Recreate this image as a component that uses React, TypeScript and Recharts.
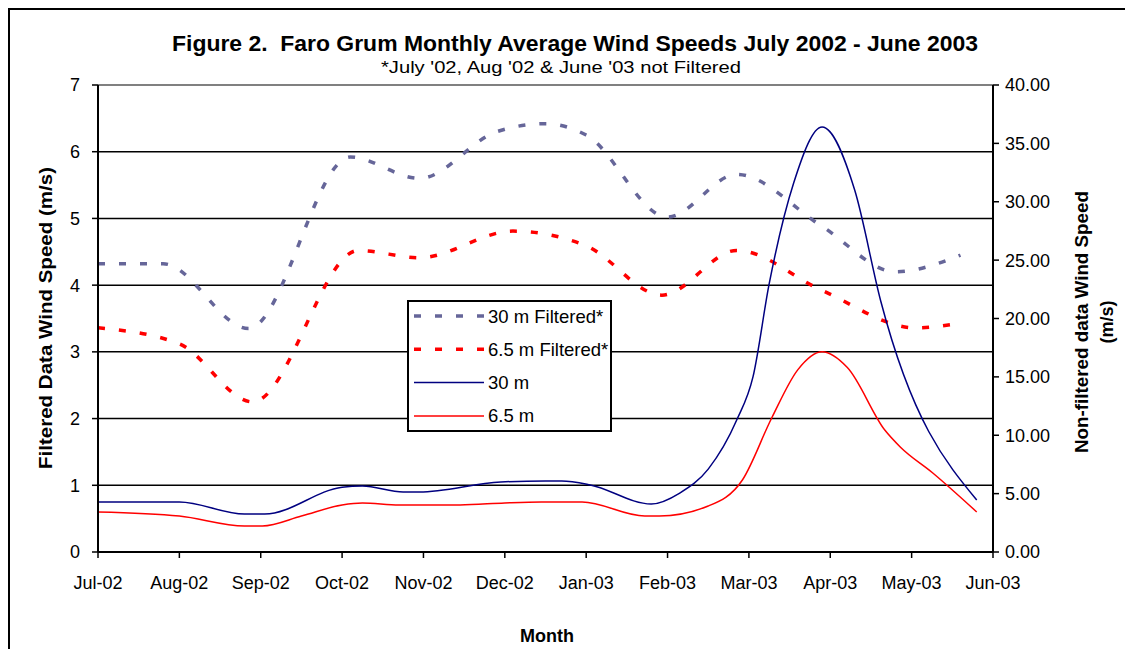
import React from 'react';
import { LineChart, Line, XAxis, YAxis, CartesianGrid, ReferenceLine, Legend } from 'recharts';

const FONT = '"Liberation Sans", Arial, sans-serif';

const monthLabels = ['Jul-02', 'Aug-02', 'Sep-02', 'Oct-02', 'Nov-02', 'Dec-02', 'Jan-03', 'Feb-03', 'Mar-03', 'Apr-03', 'May-03', 'Jun-03'];
const monthTicks = [0, 1, 2, 3, 4, 5, 6, 7, 8, 9, 10, 11];
const leftTicks = [0, 1, 2, 3, 4, 5, 6, 7];
const rightTicks = [0, 5, 10, 15, 20, 25, 30, 35, 40];

// 30 m Filtered* (left axis, m/s); x = months after Jul-02
const filt30T = [0, 0.8, 1.85, 3.1, 3.95, 4.9, 5.5, 6.0, 7.0, 7.85, 8.9, 9.8, 10.6];
const filt30V = [4.32, 4.32, 3.35, 5.92, 5.6, 6.3, 6.42, 6.25, 5.02, 5.66, 4.88, 4.2, 4.45];

// 6.5 m Filtered* (left axis)
const filt65T = [0, 1.0, 1.9, 3.2, 3.95, 5.1, 6.0, 6.93, 7.85, 8.9, 10.05, 10.6];
const filt65V = [3.36, 3.12, 2.25, 4.52, 4.41, 4.81, 4.59, 3.85, 4.52, 3.92, 3.36, 3.43];

// 30 m non-filtered (right axis)
const raw30T = [0, 1, 1.8, 2.05, 3.0, 3.25, 3.75, 3.95, 4.95, 5.5, 5.7, 6.05, 6.8, 7.15, 7.5, 7.85, 8.05, 8.25, 8.55, 8.9, 9.3, 9.62, 10.8];
const raw30V = [4.28, 4.28, 3.25, 3.25, 5.55, 5.65, 5.14, 5.14, 6.0, 6.08, 6.08, 5.74, 4.11, 5.05, 7.1, 11.3, 15.0, 23.0, 31.6, 36.4, 31.0, 21.5, 4.45];

// 6.5 m non-filtered (right axis)
const raw65T = [0, 1, 1.8, 2.02, 2.5, 3.0, 3.25, 3.7, 4.45, 5.0, 5.45, 5.95, 6.72, 6.9, 7.5, 7.92, 8.28, 8.6, 8.9, 9.21, 9.67, 9.86, 10.26, 10.8];
const raw65V = [3.43, 3.08, 2.23, 2.23, 3.08, 4.03, 4.2, 4.03, 4.03, 4.2, 4.28, 4.28, 3.08, 3.08, 3.94, 6.17, 11.48, 15.6, 17.15, 15.8, 10.45, 9.0, 6.77, 3.43];

const rows = (ts: number[], vs: number[]) => ts.map((t, i) => ({ t, v: vs[i] }));

const legendItems = [
  { name: '30 m Filtered*', color: '#666699', dash: '7 14', width: 3.5 },
  { name: '6.5 m Filtered*', color: '#FF0000', dash: '7 14', width: 3.5 },
  { name: '30 m', color: '#000080', dash: undefined, width: 1.5 },
  { name: '6.5 m', color: '#FF0000', dash: undefined, width: 1.5 },
];

const renderLegend = () => (
  <svg width={205} height={132} style={{ display: 'block' }}>
    <rect x={1} y={1} width={203} height={130} fill="#fff" stroke="#000" strokeWidth={2} />
    {legendItems.map((it, i) => {
      const cy = 16 + i * 33.3;
      return (
        <g key={it.name}>
          <line x1={7} x2={77} y1={cy} y2={cy} stroke={it.color} strokeWidth={it.width} strokeDasharray={it.dash} />
          <text x={81} y={cy + 6.5} fontFamily={FONT} fontSize={18.5} fill="#000">{it.name}</text>
        </g>
      );
    })}
  </svg>
);

const tickStyle = { fontFamily: FONT, fontSize: 18, fill: '#000' };

export default function App() {
  return (
    <div style={{ position: 'relative', width: 1125, height: 641, boxSizing: 'border-box', borderLeft: '2px solid #000', borderTop: '2px solid #000', background: '#fff' }}>
      <div style={{ position: 'absolute', left: -2, top: -2 }}>
        <LineChart width={1125} height={641} margin={{ top: 77, right: 0, bottom: 0, left: 0 }}>
          <CartesianGrid yAxisId="left" vertical={false} stroke="#000" strokeWidth={1.5} />
          <ReferenceLine yAxisId="left" y={7} stroke="#808080" strokeWidth={2} />
          <XAxis
            type="number"
            dataKey="t"
            domain={[0, 11]}
            ticks={monthTicks}
            interval={0}
            allowDataOverflow
            tickFormatter={(v: number) => monthLabels[v]}
            height={97}
            tickSize={6}
            tickMargin={18}
            tick={tickStyle}
            axisLine={{ stroke: '#000', strokeWidth: 2 }}
            tickLine={{ stroke: '#000', strokeWidth: 1.5 }}
          />
          <YAxis
            yAxisId="left"
            domain={[0, 7]}
            ticks={leftTicks}
            interval={0}
            allowDataOverflow
            width={90}
            tickSize={6}
            tickMargin={12}
            tick={tickStyle}
            axisLine={{ stroke: '#000', strokeWidth: 2 }}
            tickLine={{ stroke: '#000', strokeWidth: 1.5 }}
          />
          <YAxis
            yAxisId="right"
            orientation="right"
            domain={[0, 40]}
            ticks={rightTicks}
            interval={0}
            allowDataOverflow
            width={140}
            tickSize={6}
            tickMargin={6}
            tick={tickStyle}
            tickFormatter={(v: number) => v.toFixed(2)}
            axisLine={{ stroke: '#000', strokeWidth: 2 }}
            tickLine={{ stroke: '#000', strokeWidth: 1.5 }}
          />
          <Line data={rows(filt30T, filt30V)} dataKey="v" yAxisId="left" type="monotone" name="30 m Filtered*" stroke="#666699" strokeWidth={3.5} strokeDasharray="7 14" dot={false} activeDot={false} isAnimationActive={false} />
          <Line data={rows(filt65T, filt65V)} dataKey="v" yAxisId="left" type="monotone" name="6.5 m Filtered*" stroke="#FF0000" strokeWidth={3.5} strokeDasharray="7 14" dot={false} activeDot={false} isAnimationActive={false} />
          <Line data={rows(raw30T, raw30V)} dataKey="v" yAxisId="right" type="monotone" name="30 m" stroke="#000080" strokeWidth={1.5} dot={false} activeDot={false} isAnimationActive={false} />
          <Line data={rows(raw65T, raw65V)} dataKey="v" yAxisId="right" type="monotone" name="6.5 m" stroke="#FF0000" strokeWidth={1.5} dot={false} activeDot={false} isAnimationActive={false} />
          <Legend layout="vertical" align="center" verticalAlign="middle" content={renderLegend} wrapperStyle={{ left: 399, top: 292, width: 205, height: 132 }} />
        </LineChart>
      </div>
      <svg width={1125} height={641} style={{ position: 'absolute', left: -2, top: -2, pointerEvents: 'none' }}>
        <text x={567} y={43} textAnchor="middle" fontFamily={FONT} fontWeight="bold" fontSize={22.5} textLength={806} lengthAdjust="spacingAndGlyphs" style={{ whiteSpace: 'pre' }}>{'Figure 2.  Faro Grum Monthly Average Wind Speeds July 2002 - June 2003'}</text>
        <text x={553} y={65} textAnchor="middle" fontFamily={FONT} fontSize={17} textLength={360} lengthAdjust="spacingAndGlyphs">*July '02, Aug '02 &amp; June '03 not Filtered</text>
        <text x={539} y={634} textAnchor="middle" fontFamily={FONT} fontWeight="bold" fontSize={18}>Month</text>
        <text transform="translate(44,310) rotate(-90)" textAnchor="middle" fontFamily={FONT} fontWeight="bold" fontSize={18} textLength={302} lengthAdjust="spacingAndGlyphs">Filtered Data Wind Speed (m/s)</text>
        <text transform="translate(1080,314) rotate(-90)" textAnchor="middle" fontFamily={FONT} fontWeight="bold" fontSize={18} textLength={262} lengthAdjust="spacingAndGlyphs">Non-filtered data Wind Speed</text>
        <text transform="translate(1105,314) rotate(-90)" textAnchor="middle" fontFamily={FONT} fontWeight="bold" fontSize={18}>(m/s)</text>
      </svg>
    </div>
  );
}
